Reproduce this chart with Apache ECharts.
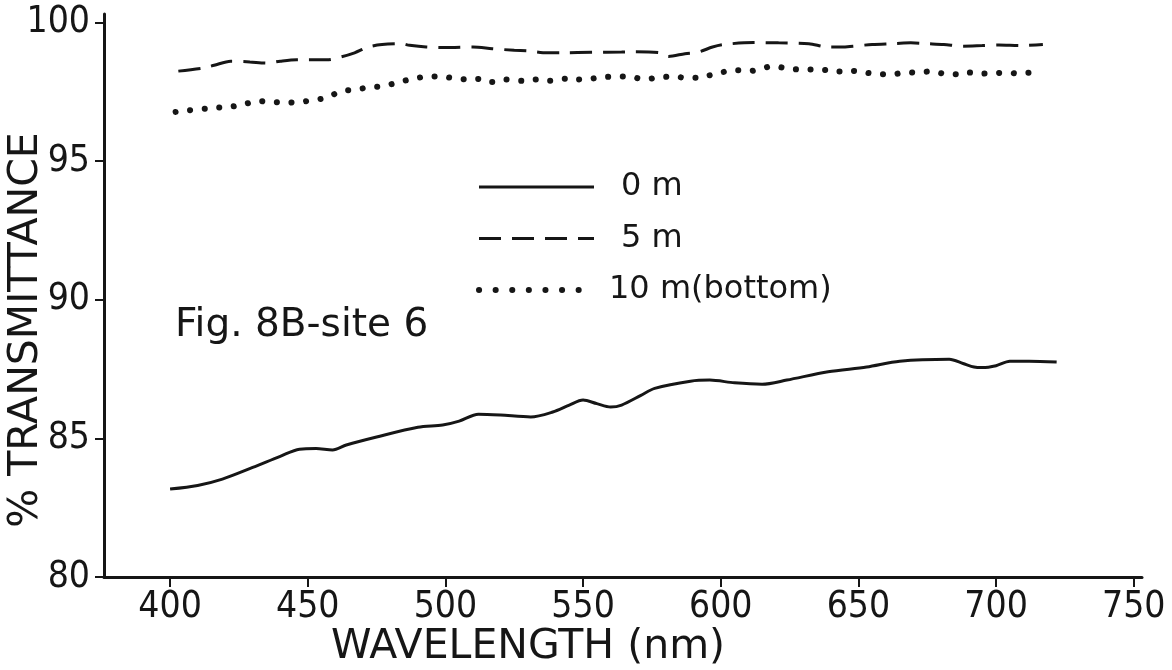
<!DOCTYPE html>
<html>
<head>
<meta charset="utf-8">
<title>Fig. 8B-site 6</title>
<script src="https://cdn.jsdelivr.net/npm/echarts@6/dist/echarts.min.js"></script>
<style>
  html, body {margin: 0; padding: 0; background: #fff;}
  #chart {width: 1172px; height: 670px;}
</style>
</head>
<body>
<div id="chart"></div>
<script>
  // wavelength (nm) / % transmittance
  let wl0 = [400, 410, 419, 430, 440, 447, 453, 459, 464, 475, 490, 499, 505, 512, 520, 531, 539, 545, 550, 555, 560, 564, 571, 576, 589, 596, 605, 615, 624, 639, 653, 665, 683, 688, 692, 695, 700, 705, 712, 722]
  let t0 = [83.17, 83.3, 83.53, 83.95, 84.35, 84.61, 84.63, 84.58, 84.76, 85.05, 85.4, 85.48, 85.62, 85.87, 85.84, 85.77, 85.95, 86.2, 86.38, 86.25, 86.13, 86.2, 86.55, 86.8, 87.06, 87.1, 87.0, 86.95, 87.1, 87.4, 87.57, 87.78, 87.85, 87.7, 87.57, 87.55, 87.62, 87.78, 87.78, 87.75]

  let wl5 = [403, 412, 416, 422, 429, 435, 440, 446, 457, 462, 467, 472, 477, 484, 487, 493, 502, 510, 517, 525, 530, 537, 543, 553, 564, 568, 578, 581, 587, 592, 597, 601, 612, 621, 632, 639, 644, 648, 655, 663, 669, 675, 681, 688, 695, 701, 709, 717]
  let t5 = [98.24, 98.35, 98.45, 98.6, 98.57, 98.53, 98.6, 98.65, 98.65, 98.75, 98.9, 99.11, 99.2, 99.23, 99.17, 99.11, 99.09, 99.11, 99.05, 98.99, 98.97, 98.9, 98.9, 98.92, 98.93, 98.94, 98.9, 98.77, 98.87, 98.93, 99.11, 99.2, 99.27, 99.26, 99.23, 99.11, 99.11, 99.14, 99.2, 99.23, 99.26, 99.23, 99.2, 99.14, 99.16, 99.18, 99.16, 99.2]

  let wl10 = [402, 407, 413, 418, 423, 427, 432, 437, 442, 447, 452, 457, 462, 467, 472, 477, 482, 487, 492, 497, 502, 508, 513, 517, 522, 528, 533, 538, 544, 548, 553, 558, 564, 568, 572, 577, 583, 587, 592, 596, 601, 606, 611, 615, 619, 624, 629, 634, 639, 643, 648, 653, 658, 663, 667, 671, 676, 681, 686, 690, 695, 700, 704, 708, 713, 716]
  let t10 = [96.77, 96.83, 96.89, 96.93, 96.97, 97.05, 97.16, 97.13, 97.1, 97.13, 97.19, 97.29, 97.51, 97.57, 97.65, 97.7, 97.81, 97.94, 98.03, 98.05, 98.0, 97.94, 97.96, 97.85, 97.94, 97.89, 97.94, 97.89, 97.97, 97.94, 97.97, 98.03, 98.05, 98.03, 97.94, 98.0, 98.05, 98.0, 98.0, 98.09, 98.21, 98.27, 98.25, 98.33, 98.43, 98.33, 98.3, 98.3, 98.27, 98.23, 98.25, 98.18, 98.13, 98.13, 98.21, 98.18, 98.23, 98.15, 98.13, 98.19, 98.15, 98.17, 98.19, 98.15, 98.19, 98.18]

  let names = ['0 m', '5 m', '10 m(bottom)']
  let xTicks = [400, 450, 500, 550, 600, 650, 700, 750]
  let yTicks = [80, 85, 90, 95, 100]

  let ink = '#161616'
  let numFont = '"Liberation Sans Narrow", "DejaVu Sans Condensed", sans-serif'
  let textFont = '"DejaVu Sans", sans-serif'

  function pairs(xs, ys) {
    return xs.map((x, i) => [x, ys[i]])
  }

  let chart = echarts.init(document.getElementById('chart'))

  let option = {
    backgroundColor: '#fff',
    animation: false,
    grid: {left: 104, right: 30, top: 14, bottom: 93},
    legend: {
      orient: 'vertical',
      left: 471,
      top: 166,
      itemWidth: 115,
      itemHeight: 26,
      itemGap: 19.5,
      itemStyle: {opacity: 0},
      data: [
        {name: names[0], lineStyle: {width: 3}},
        {name: names[1], lineStyle: {width: 3}},
        {name: names[2], lineStyle: {width: 6, type: [0.1, 16.5]}}
      ],
      formatter: name => name == names[2] ? '{b|' + name + '}' : '{a|' + name + '}',
      textStyle: {
        color: ink,
        fontFamily: textFont,
        fontSize: 32,
        lineHeight: 26,
        rich: {
          a: {fontFamily: textFont, fontSize: 32, color: ink, padding: [0, 0, 0, 22]},
          b: {fontFamily: textFont, fontSize: 32, color: ink, padding: [0, 0, 0, 10]}
        }
      }
    },
    xAxis: {
      type: 'value',
      min: 376,
      max: 753,
      splitLine: {show: false},
      axisLine: {lineStyle: {color: ink, width: 3}},
      axisTick: {customValues: xTicks, length: 10, lineStyle: {color: ink, width: 2}},
      axisLabel: {customValues: xTicks, color: ink, fontFamily: numFont, fontSize: 37, margin: 12}
    },
    yAxis: {
      type: 'value',
      min: 80,
      max: 100.3,
      splitLine: {show: false},
      axisLine: {show: true, lineStyle: {color: ink, width: 3}},
      axisTick: {show: true, customValues: yTicks, length: 9, lineStyle: {color: ink, width: 2}},
      axisLabel: {customValues: yTicks, color: ink, fontFamily: numFont, fontSize: 37, margin: 14}
    },
    graphic: [
      {
        type: 'text',
        left: 175,
        top: 306,
        style: {text: 'Fig. 8B-site 6', fill: ink, font: '39px "DejaVu Sans", sans-serif'}
      },
      {
        type: 'text',
        x: 528,
        y: 647,
        style: {text: 'WAVELENGTH (nm)', fill: ink, font: '41px "DejaVu Sans", sans-serif', align: 'center', verticalAlign: 'middle'}
      },
      {
        type: 'text',
        x: 26,
        y: 330,
        rotation: Math.PI / 2,
        style: {text: '% TRANSMITTANCE', fill: ink, font: '41px "DejaVu Sans", sans-serif', align: 'center', verticalAlign: 'middle'}
      }
    ],
    series: [
      {
        name: names[0],
        type: 'line',
        data: pairs(wl0, t0),
        symbol: 'none',
        smooth: 0.3,
        lineStyle: {color: ink, width: 3}
      },
      {
        name: names[1],
        type: 'line',
        data: pairs(wl5, t5),
        symbol: 'none',
        smooth: 0.3,
        lineStyle: {color: ink, width: 3, type: [22, 11]}
      },
      {
        name: names[2],
        type: 'line',
        data: pairs(wl10, t10),
        symbol: 'none',
        smooth: 0.3,
        lineStyle: {color: ink, width: 6, type: [0.1, 14.5], cap: 'round'}
      }
    ]
  }

  chart.setOption(option)
  window.addEventListener('resize', () => chart.resize(), false)
</script>
</body>
</html>
